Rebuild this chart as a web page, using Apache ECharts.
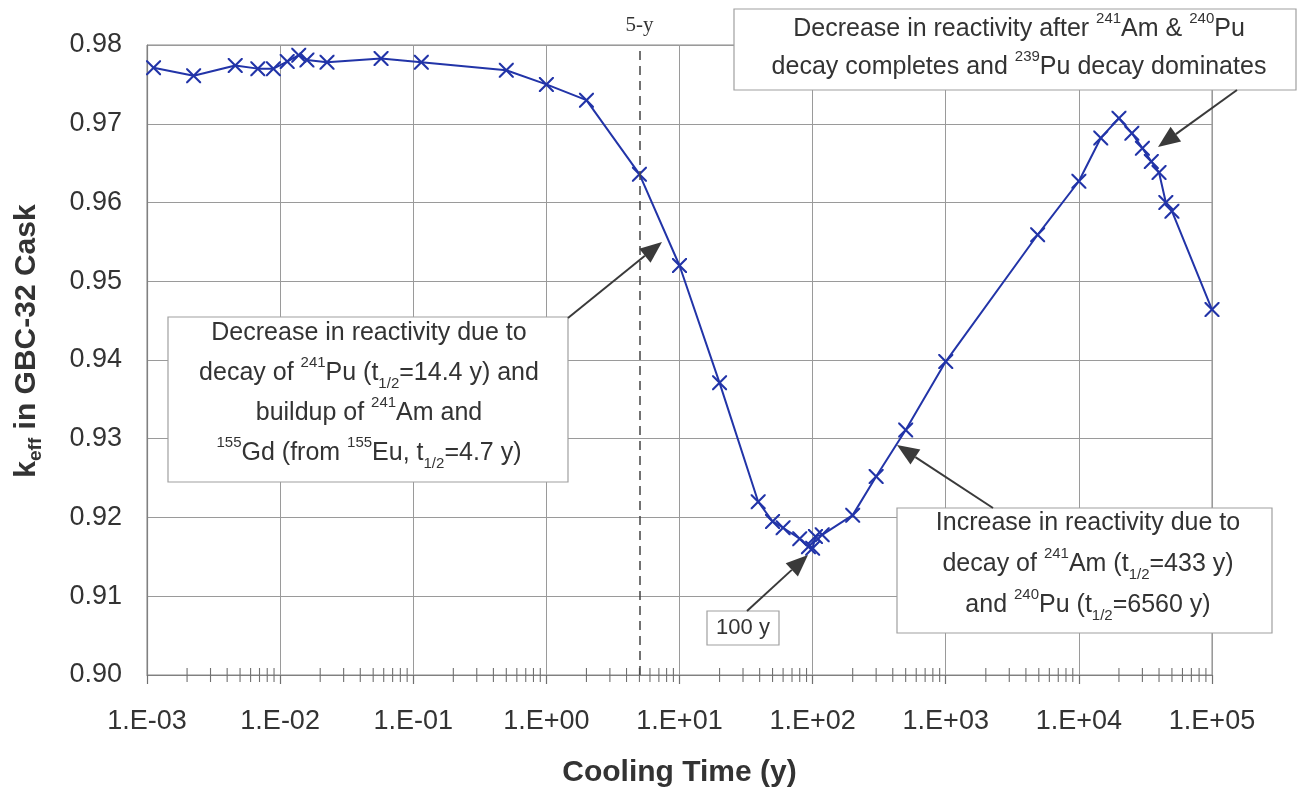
<!DOCTYPE html>
<html><head><meta charset="utf-8">
<script src="https://cdn.jsdelivr.net/npm/echarts@6/dist/echarts.min.js"></script>
<style>html,body{margin:0;padding:0;background:#fff}#c{width:1307px;height:797px}</style>
</head><body><div id="c"></div>
<script>
// ---- data ----
const coolingTime = [0.00112, 0.00224, 0.0046, 0.0068, 0.0089, 0.0113, 0.0138, 0.0159, 0.0225, 0.0573,
  0.115, 0.5, 1.0, 2.0, 5.0, 10, 20, 39, 50, 60,
  80, 93, 100, 105, 118, 200, 300, 500, 1000, 4900,
  10000, 14600, 20000, 25000, 30000, 35000, 40000, 45000, 50000, 100000];
const keff = [0.9771, 0.9761, 0.9774, 0.9770, 0.9770, 0.9779, 0.9787, 0.9781, 0.9778, 0.9783,
  0.9778, 0.9768, 0.9750, 0.9730, 0.9636, 0.9520, 0.9371, 0.9220, 0.9195, 0.9187,
  0.9173, 0.9163, 0.9161, 0.9176, 0.9178, 0.9203, 0.9252, 0.9311, 0.9398, 0.9559,
  0.9627, 0.9682, 0.9707, 0.9688, 0.9669, 0.9652, 0.9638, 0.9600, 0.9589, 0.9464];
const xTickLabels = ['1.E-03','1.E-02','1.E-01','1.E+00','1.E+01','1.E+02','1.E+03','1.E+04','1.E+05'];
const yTickLabels = ['0.90','0.91','0.92','0.93','0.94','0.95','0.96','0.97','0.98'];
const decadeStarts = [0.001, 0.01, 0.1, 1, 10, 100, 1000, 10000];
const minorMultipliers = [2, 3, 4, 5, 6, 7, 8, 9];
const fiveYear = 5;
const xMin = 0.001, xMax = 100000, yMin = 0.90, yMax = 0.98, yStep = 0.01;

// ---- styling ----
const FONT = 'Liberation Sans, Arial, sans-serif';
const TXT = '#333333';
const GRID = '#9a9a9a';
const BLUE = '#2234a8';
const ARROW = '#3a3a3a';
const xSymbol = 'path://M0,0L2,0L10,8L18,0L20,0L20,2L12,10L20,18L20,20L18,20L10,12L2,20L0,20L0,18L8,10L0,2Z';

const minorTicks = [];
decadeStarts.forEach(d => minorMultipliers.forEach(m => minorTicks.push([m * d, yMin])));

const chart = echarts.init(document.getElementById('c'), null, {renderer: 'canvas'});

const RICH = {
  n: {fontSize: 25, fontFamily: FONT, lineHeight: 36, fill: TXT, color: TXT},
  sup: {fontSize: 15, fontFamily: FONT, lineHeight: 22, verticalAlign: 'top', fill: TXT, color: TXT},
  sub: {fontSize: 15, fontFamily: FONT, lineHeight: 22, verticalAlign: 'bottom', fill: TXT, color: TXT}
};

function textLine(cx, cy, txt, rich) {
  return {type: 'text', x: cx, y: cy, z: 102, silent: true,
    style: {text: txt, rich: rich || RICH, align: 'center', verticalAlign: 'middle',
      textAlign: 'center', textVerticalAlign: 'middle', fill: TXT, fontFamily: FONT, fontSize: 25}};
}
function box(x1, y1, x2, y2) {
  return {type: 'rect', z: 100, silent: true, shape: {x: x1, y: y1, width: x2 - x1, height: y2 - y1},
    style: {fill: '#ffffff', stroke: '#a0a0a0', lineWidth: 1.2}};
}
function arrow(x1, y1, x2, y2) {
  const a = Math.atan2(y2 - y1, x2 - x1);
  const L = 22, W = 9;
  const bx = x2 - L * Math.cos(a), by = y2 - L * Math.sin(a);
  const px = -Math.sin(a), py = Math.cos(a);
  return [
    {type: 'line', z: 101, silent: true, shape: {x1: x1, y1: y1, x2: bx, y2: by}, style: {stroke: ARROW, lineWidth: 2}},
    {type: 'polygon', z: 101, silent: true, shape: {points: [[x2, y2], [bx + px * W, by + py * W], [bx - px * W, by - py * W]]},
      style: {fill: ARROW}}
  ];
}

const graphics = [].concat(
  // box 1
  [box(168, 317, 568, 482),
   textLine(369, 333, '{n|Decrease in reactivity due to}'),
   textLine(369, 373, '{n|decay of }{sup|241}{n|Pu (t}{sub|1/2}{n|=14.4 y) and}'),
   textLine(369, 413, '{n|buildup of }{sup|241}{n|Am and}'),
   textLine(369, 453, '{sup|155}{n|Gd (from }{sup|155}{n|Eu, t}{sub|1/2}{n|=4.7 y)}')],
  arrow(568, 318, 662, 242),
  // box 2
  [box(734, 9, 1296, 90),
   textLine(1019, 29, '{n|Decrease in reactivity after }{sup|241}{n|Am & }{sup|240}{n|Pu}'),
   textLine(1019, 67, '{n|decay completes and }{sup|239}{n|Pu decay dominates}')],
  arrow(1237, 90, 1158, 147),
  // box 3
  [box(897, 508, 1272, 633),
   textLine(1088, 523, '{n|Increase in reactivity due to}'),
   textLine(1088, 564, '{n|decay of }{sup|241}{n|Am (t}{sub|1/2}{n|=433 y)}'),
   textLine(1088, 605, '{n|and }{sup|240}{n|Pu (t}{sub|1/2}{n|=6560 y)}')],
  arrow(993, 508, 897, 445),
  // 100 y
  [box(707, 611, 779, 645),
   textLine(743, 628, '{m|100 y}', {m: {fontSize: 22, fontFamily: FONT, fill: TXT, color: TXT, lineHeight: 30}})],
  arrow(747, 611, 808, 555),
  // y-axis title
  [{type: 'text', x: 27, y: 341, rotation: Math.PI / 2, z: 102, silent: true,
    style: {text: '{b|k}{s|eff}{b| in GBC-32 Cask}', align: 'center', verticalAlign: 'middle',
      textAlign: 'center', textVerticalAlign: 'middle', fill: TXT,
      rich: {
        b: {fontSize: 30, fontWeight: 'bold', fontFamily: FONT, lineHeight: 36, fill: TXT, color: TXT},
        s: {fontSize: 19, fontWeight: 'bold', fontFamily: FONT, lineHeight: 26, verticalAlign: 'bottom', fill: TXT, color: TXT}
      }}}]
);

const option = {
  animation: false,
  backgroundColor: '#ffffff',
  grid: {left: 147, right: 95, top: 45, bottom: 122, show: true, borderColor: '#888', borderWidth: 1, backgroundColor: 'transparent'},
  xAxis: {
    type: 'log', logBase: 10, min: xMin, max: xMax, splitNumber: 8,
    name: 'Cooling Time (y)', nameLocation: 'middle', nameGap: 83,
    nameTextStyle: {fontSize: 30, fontWeight: 'bold', fontFamily: FONT, color: TXT, lineHeight: 30},
    axisLine: {show: true, lineStyle: {color: '#808080', width: 1.2}},
    axisTick: {show: true, length: 9, lineStyle: {color: '#707070', width: 1.2}},
    minorTick: {show: false},
    splitLine: {show: true, lineStyle: {color: GRID, width: 1}},
    axisLabel: {
      fontSize: 27, fontFamily: FONT, color: TXT, margin: 33, lineHeight: 27,
      formatter: v => xTickLabels[Math.round(Math.log10(v)) + 3] || ''
    }
  },
  yAxis: {
    type: 'value', min: yMin, max: yMax, interval: yStep,
    axisLine: {show: true, lineStyle: {color: '#808080', width: 1.2}},
    axisTick: {show: false},
    splitLine: {show: true, lineStyle: {color: GRID, width: 1}},
    axisLabel: {
      fontSize: 27, fontFamily: FONT, color: TXT, margin: 25,
      formatter: v => yTickLabels[Math.round((v - yMin) / yStep)] || ''
    }
  },
  series: [
    {
      type: 'custom', silent: true, clip: false, z: 4,
      data: minorTicks,
      renderItem: (params, api) => {
        const p = api.coord([api.value(0), api.value(1)]);
        return {type: 'line', shape: {x1: p[0], y1: p[1] - 7, x2: p[0], y2: p[1] + 7},
          style: {stroke: '#707070', lineWidth: 1.1}};
      }
    },
    {
      type: 'line', z: 3,
      data: coolingTime.map((t, i) => [t, keff[i]]),
      symbol: xSymbol, symbolSize: 15, showAllSymbol: true,
      lineStyle: {color: BLUE, width: 2},
      itemStyle: {color: BLUE, borderWidth: 0},
      emphasis: {disabled: true},
      markLine: {
        silent: true, animation: false, symbol: ['none', 'none'],
        lineStyle: {type: [9, 6], color: '#444', width: 1.5},
        label: {show: true, position: 'end', formatter: '5-y', fontFamily: 'Liberation Serif, Times New Roman, serif',
          fontSize: 21, color: TXT, distance: 9},
        data: [{xAxis: fiveYear}]
      }
    }
  ],
  graphic: graphics
};
chart.setOption(option);
</script>
</body></html>
